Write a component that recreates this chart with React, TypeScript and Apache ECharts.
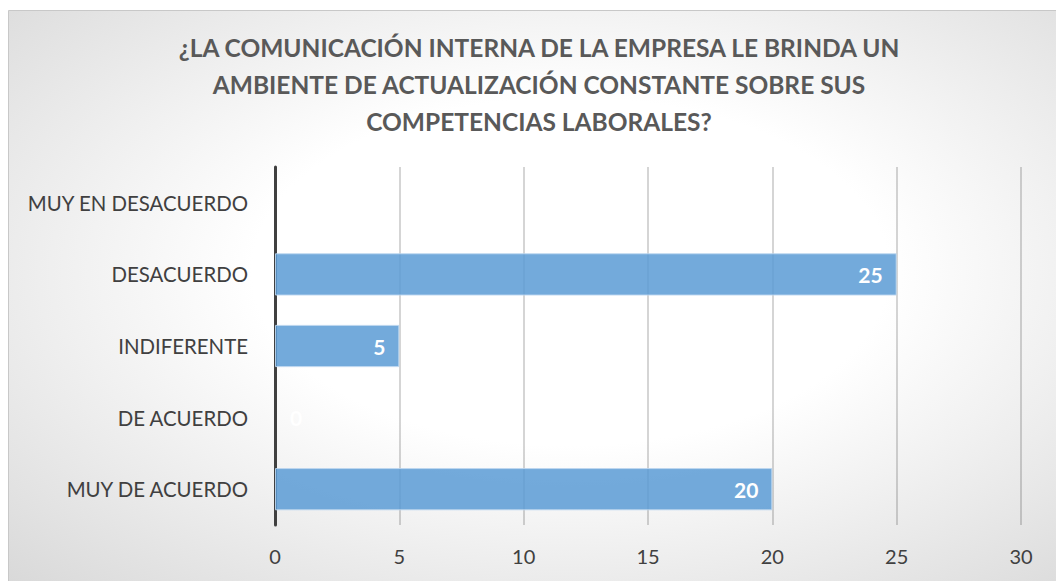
import React, { useEffect, useRef } from "react";
import * as echarts from "echarts";

const titleLines = [
  "¿LA COMUNICACIÓN INTERNA DE LA EMPRESA LE BRINDA UN",
  "AMBIENTE DE ACTUALIZACIÓN CONSTANTE SOBRE SUS",
  "COMPETENCIAS LABORALES?",
];
const categories = ["MUY DE ACUERDO", "DE ACUERDO", "INDIFERENTE", "DESACUERDO", "MUY EN DESACUERDO"];
const values = [20, 0, 5, 25, 0];
const xTicks = { min: 0, max: 30, interval: 5 };

export default function App() {
  const ref = useRef<HTMLDivElement>(null);
  useEffect(() => {
    if (!ref.current) return;
    const chart = echarts.init(ref.current, null, { renderer: "svg" });
    const font = "Lato, 'Open Sans', sans-serif";
    chart.setOption({
      animation: false,
      graphic: [
        {
          type: "rect",
          z: -10,
          silent: true,
          shape: { x: 8.5, y: 10.5, width: 1060, height: 580 },
          style: {
            fill: new echarts.graphic.RadialGradient(0.53, 0.45, 1.0, [
              { offset: 0, color: "#ffffff" },
              { offset: 0.3, color: "#ffffff" },
              { offset: 1, color: "#c4c4c4" },
            ]),
            stroke: "#c8c8c8",
            lineWidth: 1,
          },
        },
      ],
      title: {
        text: titleLines.join("\n"),
        left: 534,
        textAlign: "center",
        top: 24,
        textStyle: {
          fontFamily: font,
          fontWeight: "bold",
          fontSize: 24.5,
          lineHeight: 37,
          color: "#595959",
        },
      },
      grid: { left: 275, right: 35, top: 167, bottom: 56, containLabel: false },
      xAxis: {
        type: "value",
        min: xTicks.min,
        max: xTicks.max,
        interval: xTicks.interval,
        axisLine: { show: false },
        axisTick: { show: false },
        axisLabel: { fontFamily: font, fontSize: 20, color: "#404040", margin: 21 },
        splitLine: { show: true, lineStyle: { color: "rgba(0,0,0,0.22)", width: 1.5 } },
      },
      yAxis: {
        type: "category",
        data: categories,
        axisLine: { show: true, lineStyle: { color: "#404040", width: 3 } },
        axisTick: { show: false },
        axisLabel: { fontFamily: font, fontSize: 20.4, color: "#404040", margin: 27 },
      },
      series: [
        {
          type: "bar",
          barWidth: "59%",
          data: values.map((v) =>
            v === 0
              ? { value: v, itemStyle: { borderWidth: 0 }, label: { position: "right", distance: 15 } }
              : { value: v }
          ),
          itemStyle: {
            color: "rgba(91,155,213,0.85)",
            borderColor: "rgba(190,215,240,0.9)",
            borderWidth: 1,
          },
          label: {
            show: true,
            position: "insideRight",
            distance: 14,
            color: "#ffffff",
            fontFamily: font,
            fontWeight: "bold",
            fontSize: 21,
          },
        },
      ],
    });
    return () => chart.dispose();
  }, []);
  return <div ref={ref} style={{ position: "absolute", left: 0, top: 0, width: 1056, height: 581 }} />;
}
